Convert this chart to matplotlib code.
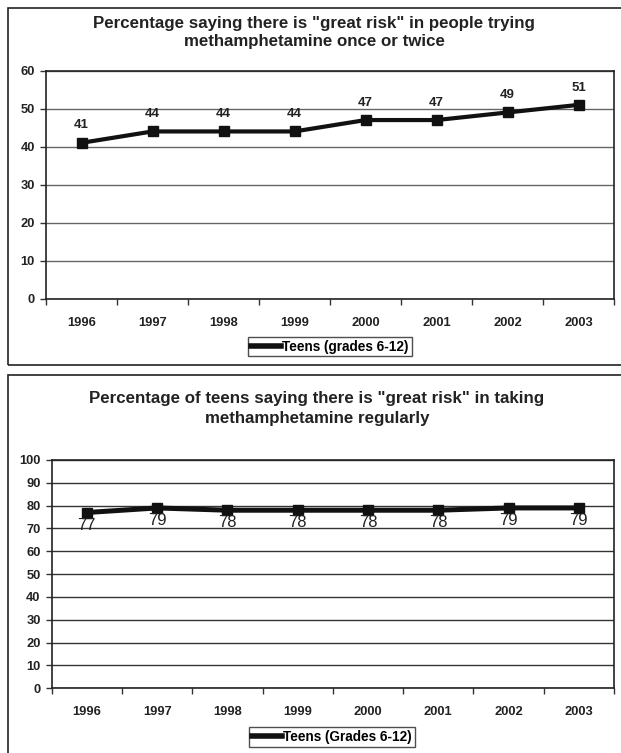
import numpy as np
import matplotlib.pyplot as plt
from matplotlib.patches import Rectangle

plt.rcParams['font.family'] = ['Liberation Sans', 'DejaVu Sans']

# 数据
years = ['1996', '1997', '1998', '1999', '2000', '2001', '2002', '2003']
try_once = [41, 44, 44, 44, 47, 47, 49, 51]
regular = [77, 79, 78, 78, 78, 78, 79, 79]

W, H = 621, 753
fig = plt.figure(figsize=(W / 100, H / 100), dpi=100)


def px_axes(left, top, right, bottom):
    # 像素坐标 -> figure 坐标
    return fig.add_axes([left / W, 1 - bottom / H, (right - left) / W, (bottom - top) / H])


def frame(left, top, right, bottom):
    fig.patches.append(Rectangle((left / W, 1 - bottom / H), (right - left) / W, (bottom - top) / H,
                                 transform=fig.transFigure, fill=False, ec='#222222', lw=1.2))


def style_axes(ax, ymax, step):
    x = np.arange(len(years))
    ax.set_xlim(-0.5, len(years) - 0.5)
    ax.set_ylim(0, ymax)
    ax.set_yticks(np.arange(0, ymax + 1, step))
    ax.set_xticks(x)
    ax.set_xticklabels(years, fontsize=9.3, fontweight='bold', color='#222222')
    ax.set_xticks(np.arange(-0.5, len(years)), minor=True)
    ax.tick_params(axis='x', which='major', length=0, pad=13)
    ax.tick_params(axis='x', which='minor', length=4, width=1, color='#333333', direction='out')
    ax.tick_params(axis='y', length=4, width=1, color='#333333', pad=4)
    for t in ax.get_yticklabels():
        t.set_fontsize(9.3)
        t.set_fontweight('bold')
        t.set_color('#222222')
    ax.grid(axis='y', color='#666666', lw=1)
    ax.set_axisbelow(True)
    for s in ax.spines.values():
        s.set_color('#222222')
        s.set_linewidth(1.2)


# 上图
frame(8, 8, 640, 365)
ax1 = px_axes(46, 70.7, 614, 298.5)
x = np.arange(len(years))
ax1.plot(x, try_once, color='#111111', lw=3, marker='s', ms=6.5, label='Teens (grades 6-12)')
style_axes(ax1, 60, 10)
for xi, v in zip(x, try_once):
    ax1.annotate(str(v), (xi, v), xytext=(0, 12.5), textcoords='offset points',
                 ha='center', va='center', fontsize=9.5, fontweight='bold', color='#222222')
fig.text(314 / W, 1 - 32.5 / H, 'Percentage saying there is "great risk" in people trying\nmethamphetamine once or twice',
         ha='center', va='center', fontsize=12.2, fontweight='bold', color='#222222', linespacing=1.25)
fig.legend(handles=ax1.get_lines(), loc='center', bbox_to_anchor=(330 / W, 1 - 346.5 / H),
           prop={'weight': 'bold', 'size': 9.8}, frameon=True, fancybox=False,
           edgecolor='#222222', handlelength=2.2, handletextpad=0.1, borderpad=0.22, borderaxespad=0)

# 下图
frame(8, 375, 640, 780)
ax2 = px_axes(51.7, 460, 614, 688.3)
ax2.plot(x, regular, color='#111111', lw=3.6, marker='s', ms=6.5, label='Teens (Grades 6-12)')
style_axes(ax2, 100, 10)
ax2.grid(axis='y', color='#333333', lw=1)
for xi, v in zip(x, regular):
    ax2.annotate(str(v), (xi, v), xytext=(0, -9), textcoords='offset points',
                 ha='center', va='center', fontsize=12, color='#222222')
fig.text(317 / W, 1 - 408.5 / H, 'Percentage of teens saying there is "great risk" in taking\nmethamphetamine regularly',
         ha='center', va='center', fontsize=12.2, fontweight='bold', color='#222222', linespacing=1.4)
fig.legend(handles=ax2.get_lines(), loc='center', bbox_to_anchor=(332 / W, 1 - 737 / H),
           prop={'weight': 'bold', 'size': 9.8}, frameon=True, fancybox=False,
           edgecolor='#222222', handlelength=2.2, handletextpad=0.1, borderpad=0.22, borderaxespad=0)

for leg in fig.legends:
    leg.get_frame().set_linewidth(1)
    for ln in leg.get_lines():
        ln.set_marker('')
        ln.set_linewidth(4)

fig.savefig('out.png', dpi=100)
